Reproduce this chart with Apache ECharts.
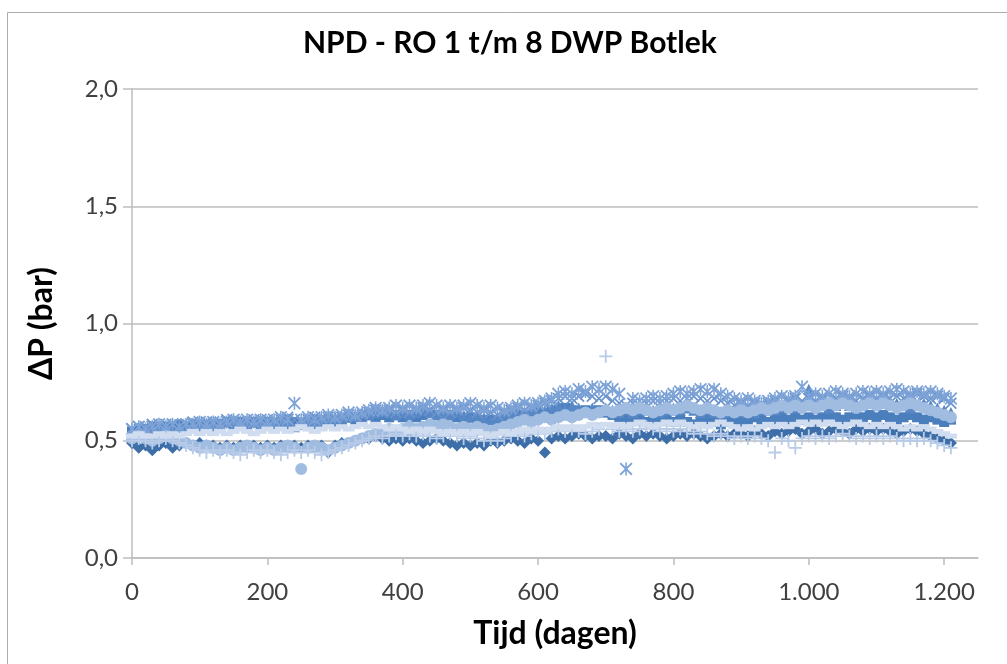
<!DOCTYPE html>
<html lang="nl">
<head>
<meta charset="UTF-8">
<title>NPD - RO 1 t/m 8 DWP Botlek</title>
<script src="https://cdn.jsdelivr.net/npm/echarts@6/dist/echarts.min.js"></script>
<style>html,body{margin:0;padding:0;background:#fff;}</style>
</head>
<body>
<div id="container" style="width:1007px;height:664px;"></div>
<script type="text/javascript">

// tijd in dagen (elke 10 dagen een meting)
var dagen = [
  0,10,20,30,40,50,60,70,80,90,
  100,110,120,130,140,150,160,170,180,190,
  200,210,220,230,240,250,260,270,280,290,
  300,310,320,330,340,350,360,370,380,390,
  400,410,420,430,440,450,460,470,480,490,
  500,510,520,530,540,550,560,570,580,590,
  600,610,620,630,640,650,660,670,680,690,
  700,710,720,730,740,750,760,770,780,790,
  800,810,820,830,840,850,860,870,880,890,
  900,910,920,930,940,950,960,970,980,990,
  1000,1010,1020,1030,1040,1050,1060,1070,1080,1090,
  1100,1110,1120,1130,1140,1150,1160,1170,1180,1190,
  1200,1210
];

// drukval per RO-unit (bar)
var ro1 = [
  0.49,0.47,0.48,0.46,0.48,0.49,0.47,0.48,0.49,0.48,
  0.49,0.48,0.48,0.47,0.48,0.47,0.48,0.47,0.48,0.47,
  0.48,0.47,0.48,0.47,0.48,0.47,0.48,0.47,0.48,0.45,
  0.48,0.49,0.49,0.50,0.51,0.51,0.52,0.51,0.50,0.51,
  0.50,0.51,0.50,0.49,0.50,0.51,0.50,0.49,0.48,0.49,
  0.48,0.49,0.48,0.50,0.49,0.50,0.51,0.50,0.49,0.51,
  0.50,0.45,0.51,0.52,0.51,0.52,0.53,0.52,0.51,0.52,
  0.52,0.51,0.53,0.52,0.51,0.53,0.52,0.53,0.52,0.51,
  0.52,0.53,0.52,0.53,0.52,0.51,0.52,0.53,0.52,0.53,
  0.53,0.52,0.54,0.53,0.52,0.54,0.53,0.54,0.55,0.53,
  0.54,0.55,0.53,0.54,0.55,0.54,0.53,0.55,0.54,0.55,
  0.54,0.55,0.54,0.53,0.54,0.55,0.54,0.53,0.52,0.51,
  0.50,0.49
];
var ro2 = [
  0.54,0.55,0.55,0.56,0.55,0.56,0.56,0.57,0.56,0.57,
  0.57,0.56,0.57,0.57,0.58,0.57,0.58,0.57,0.58,0.58,
  0.58,0.57,0.58,0.59,0.58,0.57,0.58,0.59,0.58,0.59,
  0.58,0.59,0.60,0.59,0.60,0.61,0.60,0.61,0.60,0.61,
  0.60,0.61,0.60,0.61,0.62,0.61,0.60,0.61,0.60,0.59,
  0.60,0.59,0.58,0.59,0.58,0.59,0.60,0.61,0.60,0.61,
  0.62,0.61,0.63,0.62,0.64,0.63,0.62,0.63,0.62,0.63,
  0.62,0.61,0.60,0.59,0.60,0.59,0.58,0.59,0.60,0.59,
  0.58,0.59,0.58,0.57,0.58,0.59,0.58,0.57,0.58,0.59,
  0.58,0.59,0.60,0.59,0.58,0.59,0.60,0.59,0.60,0.59,
  0.60,0.59,0.60,0.61,0.60,0.59,0.60,0.61,0.60,0.61,
  0.60,0.61,0.60,0.59,0.60,0.61,0.60,0.59,0.60,0.59,
  0.58,0.59
];
var ro3 = [
  0.53,0.54,0.55,0.54,0.55,0.56,0.55,0.56,0.57,0.56,
  0.56,0.57,0.56,0.57,0.58,0.59,0.58,0.57,0.58,0.57,
  0.58,0.57,0.58,0.57,0.56,0.57,0.58,0.57,0.58,0.59,
  0.60,0.59,0.60,0.61,0.62,0.61,0.62,0.63,0.62,0.61,
  0.62,0.61,0.62,0.63,0.62,0.61,0.62,0.61,0.62,0.61,
  0.60,0.61,0.60,0.59,0.60,0.61,0.62,0.61,0.62,0.63,
  0.62,0.63,0.64,0.65,0.64,0.65,0.64,0.63,0.64,0.63,
  0.64,0.63,0.62,0.63,0.62,0.63,0.64,0.63,0.62,0.63,
  0.64,0.63,0.64,0.63,0.62,0.63,0.62,0.61,0.62,0.63,
  0.62,0.63,0.62,0.63,0.64,0.63,0.64,0.65,0.64,0.65,
  0.72,0.64,0.65,0.64,0.65,0.66,0.65,0.64,0.65,0.66,
  0.65,0.66,0.65,0.66,0.65,0.64,0.65,0.66,0.65,0.64,
  0.63,0.62
];
var ro4 = [
  0.55,0.56,0.56,0.57,0.56,0.57,0.57,0.56,0.57,0.58,
  0.57,0.58,0.57,0.58,0.59,0.58,0.57,0.58,0.59,0.58,
  0.59,0.58,0.59,0.60,0.59,0.58,0.59,0.60,0.59,0.60,
  0.59,0.60,0.61,0.60,0.61,0.62,0.63,0.62,0.63,0.62,
  0.63,0.62,0.63,0.64,0.63,0.62,0.63,0.62,0.63,0.64,
  0.63,0.62,0.63,0.62,0.61,0.62,0.63,0.64,0.63,0.64,
  0.65,0.66,0.67,0.68,0.69,0.68,0.69,0.70,0.69,0.68,
  0.69,0.67,0.66,0.65,0.66,0.65,0.66,0.67,0.66,0.67,
  0.68,0.67,0.68,0.69,0.68,0.67,0.68,0.67,0.66,0.65,
  0.66,0.65,0.66,0.65,0.66,0.67,0.66,0.67,0.68,0.67,
  0.68,0.67,0.68,0.67,0.68,0.69,0.68,0.67,0.68,0.69,
  0.68,0.69,0.68,0.69,0.68,0.69,0.70,0.69,0.68,0.69,
  0.68,0.66
];
var ro5 = [
  0.55,0.56,0.55,0.56,0.57,0.56,0.57,0.56,0.57,0.57,
  0.58,0.57,0.58,0.57,0.58,0.59,0.58,0.59,0.58,0.59,
  0.58,0.59,0.60,0.59,0.66,0.59,0.60,0.59,0.60,0.61,
  0.60,0.61,0.62,0.61,0.62,0.63,0.64,0.63,0.64,0.65,
  0.64,0.65,0.64,0.65,0.66,0.65,0.64,0.65,0.64,0.65,
  0.66,0.65,0.64,0.65,0.64,0.63,0.64,0.65,0.66,0.65,
  0.66,0.67,0.68,0.70,0.71,0.70,0.72,0.71,0.73,0.72,
  0.73,0.72,0.70,0.38,0.68,0.67,0.68,0.69,0.68,0.69,
  0.70,0.71,0.70,0.71,0.72,0.71,0.72,0.70,0.69,0.68,
  0.67,0.68,0.67,0.66,0.67,0.68,0.69,0.68,0.69,0.73,
  0.69,0.70,0.69,0.70,0.71,0.70,0.69,0.70,0.71,0.70,
  0.71,0.70,0.71,0.72,0.71,0.70,0.71,0.70,0.71,0.70,
  0.69,0.68
];
var ro6 = [
  0.51,0.52,0.51,0.50,0.51,0.52,0.51,0.50,0.49,0.48,
  0.47,0.48,0.47,0.46,0.47,0.46,0.47,0.48,0.47,0.46,
  0.47,0.46,0.47,0.48,0.47,0.38,0.47,0.48,0.47,0.46,
  0.47,0.48,0.49,0.50,0.51,0.52,0.53,0.54,0.55,0.54,
  0.55,0.56,0.55,0.56,0.57,0.56,0.57,0.56,0.55,0.56,
  0.55,0.56,0.55,0.54,0.55,0.56,0.57,0.58,0.59,0.58,
  0.59,0.60,0.59,0.60,0.61,0.60,0.61,0.62,0.61,0.62,
  0.63,0.62,0.63,0.64,0.63,0.64,0.63,0.62,0.63,0.64,
  0.63,0.64,0.65,0.64,0.63,0.64,0.63,0.62,0.63,0.62,
  0.63,0.62,0.63,0.64,0.63,0.64,0.65,0.64,0.65,0.64,
  0.65,0.64,0.65,0.66,0.65,0.66,0.65,0.64,0.65,0.66,
  0.65,0.66,0.65,0.64,0.65,0.66,0.65,0.64,0.63,0.62,
  0.61,0.60
];
var ro7 = [
  0.50,0.51,0.50,0.49,0.50,0.51,0.50,0.49,0.48,0.47,
  0.46,0.45,0.46,0.45,0.46,0.45,0.44,0.45,0.46,0.45,
  0.46,0.45,0.44,0.45,0.46,0.45,0.46,0.45,0.44,0.45,
  0.46,0.47,0.48,0.49,0.50,0.51,0.52,0.51,0.52,0.53,
  0.52,0.53,0.52,0.53,0.52,0.51,0.52,0.53,0.52,0.51,
  0.52,0.51,0.50,0.51,0.50,0.51,0.52,0.53,0.52,0.53,
  0.54,0.53,0.54,0.55,0.54,0.55,0.54,0.53,0.54,0.55,
  0.86,0.55,0.54,0.55,0.54,0.55,0.56,0.55,0.54,0.55,
  0.54,0.55,0.54,0.53,0.54,0.53,0.52,0.53,0.52,0.51,
  0.52,0.51,0.52,0.51,0.50,0.45,0.51,0.50,0.47,0.51,
  0.52,0.51,0.52,0.51,0.52,0.53,0.52,0.51,0.52,0.51,
  0.52,0.51,0.52,0.51,0.50,0.51,0.50,0.51,0.50,0.49,
  0.48,0.47
];
var ro8 = [
  0.52,0.53,0.52,0.52,0.53,0.52,0.53,0.52,0.53,0.54,
  0.53,0.54,0.53,0.54,0.53,0.54,0.55,0.54,0.53,0.54,
  0.55,0.54,0.55,0.54,0.55,0.56,0.55,0.54,0.55,0.56,
  0.55,0.56,0.55,0.56,0.57,0.56,0.57,0.56,0.55,0.56,
  0.55,0.54,0.55,0.54,0.55,0.54,0.53,0.54,0.53,0.54,
  0.53,0.54,0.53,0.52,0.53,0.54,0.53,0.54,0.55,0.54,
  0.55,0.54,0.55,0.56,0.55,0.56,0.55,0.56,0.57,0.56,
  0.57,0.56,0.57,0.56,0.57,0.58,0.57,0.56,0.57,0.58,
  0.57,0.58,0.57,0.56,0.57,0.56,0.57,0.58,0.57,0.56,
  0.55,0.56,0.55,0.56,0.57,0.56,0.57,0.56,0.57,0.58,
  0.57,0.58,0.57,0.58,0.57,0.56,0.57,0.58,0.57,0.56,
  0.57,0.56,0.57,0.56,0.55,0.56,0.55,0.56,0.55,0.54,
  0.53,0.52
];

var namen = ['RO 1','RO 2','RO 3','RO 4','RO 5','RO 6','RO 7','RO 8'];
var reeksen = [ro1, ro2, ro3, ro4, ro5, ro6, ro7, ro8];
var xTicks = [0, 200, 400, 600, 800, 1000, 1200];

// markers zoals in excel: ruit, vierkant, driehoek, x, ster, rondje, plus, streepje
var kruis = 'path://M1,0L5,4L9,0L10,1L6,5L10,9L9,10L5,6L1,10L0,9L4,5L0,1Z';
var ster = 'path://M1,0L5,4L9,0L10,1L6,5L10,9L9,10L5,6L1,10L0,9L4,5L0,1Z M4.4,0h1.2v10h-1.2z';
var plus = 'path://M4.3,0h1.4v4.3h4.3v1.4h-4.3v4.3h-1.4v-4.3h-4.3v-1.4h4.3z';
var symbolen = ['diamond', 'rect', 'triangle', kruis, ster, 'circle', plus, 'rect'];
var maten = [12, 10, 11, 12, 13, 12, 13, [12, 5]];
var kleuren = ['#3D6EA8', '#4A7EBC', '#5787C4', '#6A93CD', '#7DA3D7', '#A1BCE1', '#B8CBE8', '#D0DCEF'];

function punten(waarden) {
  var d = [];
  for (var i = 0; i < waarden.length; i++) {
    d.push([dagen[i], waarden[i]]);
  }
  return d;
}

var chartData = [];
for (var i = 0; i < reeksen.length; i++) {
  chartData.push({
    name: namen[i],
    type: 'scatter',
    symbol: symbolen[i],
    symbolSize: maten[i],
    itemStyle: {color: kleuren[i], opacity: 1},
    silent: true,
    data: punten(reeksen[i])
  });
}

var lettertype = 'Lato, "Open Sans", sans-serif';

var dom = document.getElementById('container');
var myChart = echarts.init(dom, null, {renderer: 'canvas'});
var option = {
  animation: false,
  backgroundColor: '#ffffff',
  title: {
    text: 'NPD - RO 1 t/m 8 DWP Botlek',
    left: 303,
    top: 28,
    padding: 0,
    textStyle: {fontFamily: lettertype, fontSize: 30, fontWeight: 'bold', color: '#000000'}
  },
  graphic: [{
    type: 'rect',
    shape: {x: 7.5, y: 12.5, width: 1100, height: 700},
    style: {fill: 'none', stroke: '#ABABAB', lineWidth: 1},
    silent: true
  }],
  grid: {left: 132, right: 29, top: 89, bottom: 106, containLabel: false},
  xAxis: {
    type: 'value',
    min: 0,
    max: 1250,
    interval: 200,
    name: 'Tijd (dagen)',
    nameLocation: 'middle',
    nameGap: 60,
    nameTextStyle: {fontFamily: lettertype, fontSize: 32, fontWeight: 'bold', color: '#000000'},
    axisLine: {show: true, lineStyle: {color: '#BDBDBD', width: 1.5}},
    axisTick: {show: true, length: 7, customValues: xTicks, lineStyle: {color: '#BDBDBD', width: 1.5}},
    axisLabel: {
      customValues: xTicks,
      margin: 22,
      fontFamily: lettertype,
      fontSize: 24,
      color: '#404040',
      formatter: function (v) {
        if (v >= 1000) {
          var rest = String(v % 1000);
          while (rest.length < 3) rest = '0' + rest;
          return Math.floor(v / 1000) + '.' + rest;
        }
        return String(v);
      }
    },
    splitLine: {show: false}
  },
  yAxis: {
    type: 'value',
    min: 0,
    max: 2,
    interval: 0.5,
    name: 'ΔP (bar)',
    nameLocation: 'middle',
    nameGap: 74,
    nameTextStyle: {fontFamily: lettertype, fontSize: 32, fontWeight: 'bold', color: '#000000'},
    axisLine: {show: true, lineStyle: {color: '#BDBDBD', width: 1.5}},
    axisTick: {show: true, length: 9, lineStyle: {color: '#BDBDBD', width: 1.5}},
    axisLabel: {
      margin: 14,
      fontFamily: lettertype,
      fontSize: 24,
      color: '#404040',
      formatter: function (v) { return v.toFixed(1).replace('.', ','); }
    },
    splitLine: {show: true, lineStyle: {color: '#BDBDBD', width: 1.5}}
  },
  series: chartData
};

myChart.setOption(option);
</script>
</body>
</html>
